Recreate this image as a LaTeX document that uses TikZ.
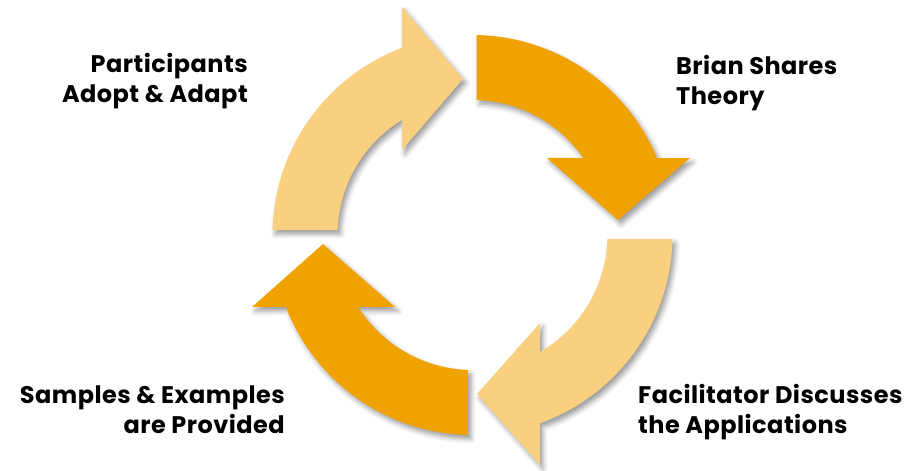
\documentclass[tikz,border=0pt]{standalone}
\usepackage{fontspec}
\setmainfont{Poppins}[LetterSpace=2]
\usetikzlibrary{shadows.blur}
\definecolor{cycledark}{HTML}{F0A300}
\definecolor{cyclelight}{HTML}{F8D080}
\begin{document}
\begin{tikzpicture}[x=1pt,y=1pt,
  cyclearrow/.style={draw=none,
    blur shadow={shadow xshift=3pt, shadow yshift=-4pt,
                 shadow blur radius=5pt, shadow opacity=40}},
  steplabel/.style={font=\bfseries\fontsize{24}{30}\selectfont,
                    inner sep=0pt, text=black}]
\useasboundingbox (-472.5,-236) rectangle (433.5,235);

% top-right: theory
\fill[cyclearrow, cycledark]
  (88.8:200) arc[start angle=88.8, end angle=22.6, radius=200]
  -- (217.5,77) -- (145.5,15) -- (74.5,77)
  -- (34.8:135) arc[start angle=34.8, end angle=88.2, radius=135] -- cycle;

% right: applications
\fill[cyclearrow, cyclelight]
  (-1.15:200) arc[start angle=-1.15, end angle=-70.3, radius=200]
  -- (67.5,-230) -- (4.5,-159) -- (67.5,-88)
  -- (-60:135) arc[start angle=-60, end angle=-1.7, radius=135] -- cycle;

% bottom-left: samples
\fill[cyclearrow, cycledark]
  (268.7:200) arc[start angle=268.7, end angle=201.1, radius=200]
  -- (-220.5,-72) -- (-149.5,-9) -- (-77.5,-72)
  -- (212.2:135) arc[start angle=212.2, end angle=268.1, radius=135] -- cycle;

% left: adopt & adapt
\fill[cyclearrow, cyclelight]
  (178.6:200) arc[start angle=178.6, end angle=110.6, radius=200]
  -- (-70.5,228) -- (-9.5,156) -- (-70.5,85)
  -- (121.5:135) arc[start angle=121.5, end angle=177.9, radius=135] -- cycle;

% labels (base anchor sits on the last line)
\node[steplabel, anchor=base east, align=right] (adopt) at (-224.5,132)
  {Participants\\Adopt \& Adapt};
\node[steplabel, anchor=base west, align=left] (theory) at (203.5,130)
  {Brian Shares\\Theory};
\node[steplabel, anchor=base east, align=right] (samples) at (-187.5,-198)
  {Samples \& Examples\\are Provided};
\node[steplabel, anchor=base west, align=left] (discuss) at (165.5,-198)
  {Facilitator Discusses\\the Applications};
\end{tikzpicture}
\end{document}
